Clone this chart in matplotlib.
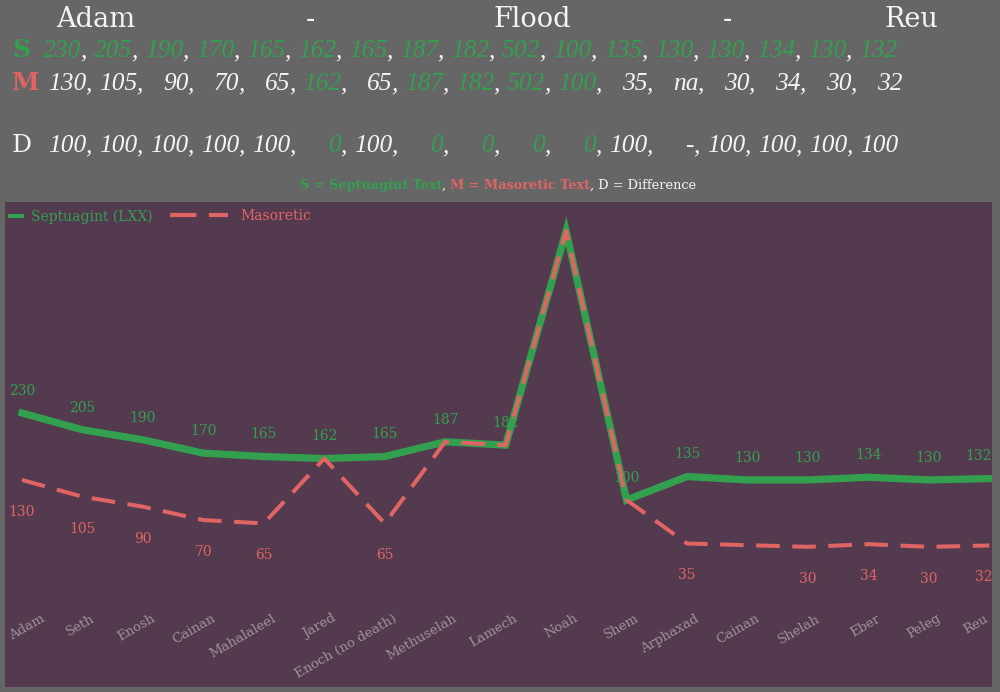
import matplotlib.pyplot as plt
from matplotlib.lines import Line2D
import numpy as np

plt.rcParams['lines.scale_dashes'] = False

# data
names = ['Adam', 'Seth', 'Enosh', 'Cainan', 'Mahalaleel', 'Jared',
         'Enoch (no death)', 'Methuselah', 'Lamech', 'Noah', 'Shem',
         'Arphaxad', 'Cainan', 'Shelah', 'Eber', 'Peleg', 'Reu']
septuagint = [230, 205, 190, 170, 165, 162, 165, 187, 182, 502, 100,
              135, 130, 130, 134, 130, 132]
masoretic = [130, 105, 90, 70, 65, 162, 65, 187, 182, 502, 100,
             35, np.nan, 30, 34, 30, 32]
header_names = ['Adam', '-', 'Flood', '-', 'Reu']

BG = '#666666'
PLOT_BG = '#533a4e'
GREEN = '#33a04f'
RED = '#e06464'
WHITE = '#f4f4f4'
TICK = '#9d929b'
SERIF = 'DejaVu Serif'
HEAD = 'Liberation Serif'

fig = plt.figure(figsize=(10, 6.92), dpi=100, facecolor=BG)
ax = fig.add_axes([0.005, 5 / 692, 0.987, 485 / 692])
ax.set_facecolor(PLOT_BG)
for s in ax.spines.values():
    s.set_visible(False)
ax.set_xticks([])
ax.set_yticks([])
ax.set_xlim(-0.281, 16.045)
ax.set_ylim(-179.5, 545.4)

x = np.arange(len(names))
s_arr = np.array(septuagint, dtype=float)
m_arr = np.array(masoretic, dtype=float)
ok = ~np.isnan(m_arr)

ax.plot(x, s_arr, color=GREEN, lw=5.2, solid_joinstyle='miter', zorder=2)
ax.plot(x[ok], m_arr[ok], color=RED, lw=2.9, dashes=(17, 9), zorder=3)

labels = []
top = ax.get_ylim()[1]
for i, v in enumerate(septuagint):
    if v < top - 60:
        labels.append(ax.annotate(str(v), (i, v), xytext=(0, 16), textcoords='offset points',
                                  ha='center', va='center', color=GREEN, fontsize=10,
                                  family=SERIF, zorder=4))
for i, v in enumerate(masoretic):
    if not np.isnan(v) and v != septuagint[i]:
        labels.append(ax.annotate(str(int(v)), (i, v), xytext=(0, -23), textcoords='offset points',
                                  ha='center', va='center', color=RED, fontsize=10,
                                  family=SERIF, zorder=4))

# rotated category labels inside the plot area
ticks = []
for i, name in enumerate(names):
    ticks.append(ax.text(i + 0.13, 0.155, name, transform=ax.get_xaxis_transform(),
                         rotation=30, rotation_mode='anchor', ha='right', va='top',
                         color=TICK, fontsize=9.5, family=SERIF))

# legend
h1 = Line2D([], [], color=GREEN, lw=3)
leg1 = ax.legend([h1], ['Septuagint (LXX)'], loc='upper left',
                 bbox_to_anchor=(0.005, 0.985), frameon=False, handlelength=0.9,
                 handletextpad=0.6, borderpad=0, borderaxespad=0,
                 labelcolor=[GREEN], prop={'family': SERIF, 'size': 10})
ax.add_artist(leg1)
h2 = Line2D([], [], color=RED, lw=3, dashes=(19, 9))
ax.legend([h2], ['Masoretic'], loc='upper left',
          bbox_to_anchor=(0.167, 0.985), frameon=False, handlelength=4.2,
          handletextpad=0.85, borderpad=0, borderaxespad=0,
          labelcolor=[RED], prop={'family': SERIF, 'size': 10})

# keep edge labels inside the plot area
renderer = fig.canvas.get_renderer()
ab = ax.get_window_extent(renderer)
px_per_unit = ab.width / (ax.get_xlim()[1] - ax.get_xlim()[0])


def shift_needed(t, margin):
    bb = t.get_window_extent(renderer)
    if bb.x0 < ab.x0 + margin:
        return ab.x0 + margin - bb.x0
    if bb.x1 > ab.x1 - margin:
        return ab.x1 - margin - bb.x1
    return 0


for t in ticks:
    dx = shift_needed(t, 2)
    if dx:
        px, py = t.get_position()
        t.set_position((px + dx / px_per_unit, py))
for t in labels:
    dx = shift_needed(t, 0)
    if dx:
        ox, oy = t.xyann
        t.xyann = (ox + dx * 72 / fig.dpi, oy)


# header text
def text_width(s, **kw):
    a = fig.text(0, 0, '|' + s + '|', **kw)
    b = fig.text(0, 0, '||', **kw)
    w = a.get_window_extent(renderer).width - b.get_window_extent(renderer).width
    a.remove()
    b.remove()
    return w


def draw_row(pieces, x0, y_base):
    xp = x0
    for s, color, kw in pieces:
        fig.text(xp / 1000, 1 - y_base / 692, s, color=color,
                 ha='left', va='baseline', **kw)
        xp += text_width(s, **kw)
    return xp


ital = {'family': HEAD, 'style': 'italic', 'fontsize': 18.3}
letter = {'family': SERIF, 'fontsize': 18}

for name, cx in zip(header_names, [96, 310, 532, 727, 911]):
    fig.text(cx / 1000, 1 - 27 / 692, name, color=WHITE, ha='center',
             va='baseline', family=SERIF, fontsize=19.5)

# S row
fig.text(12 / 1000, 1 - 57 / 692, 'S', color=GREEN, fontweight='bold',
         va='baseline', **letter)
pieces = []
for i, v in enumerate(septuagint):
    pieces.append((str(v), GREEN, ital))
    if i < len(septuagint) - 1:
        pieces.append((', ', WHITE, ital))
draw_row(pieces, 43, 57)

# M row
fig.text(12 / 1000, 1 - 90 / 692, 'M', color=RED, fontweight='bold',
         va='baseline', **letter)
m_txt = ['na' if np.isnan(v) else str(int(v)) for v in masoretic]
pieces = []
for i, t in enumerate(m_txt):
    col = GREEN if masoretic[i] == septuagint[i] else WHITE
    pieces.append((t, col, ital))
    if i < len(m_txt) - 1:
        pad = '  ' * (3 - len(m_txt[i + 1]))
        pieces.append((', ' + pad, WHITE, ital))
draw_row(pieces, 48, 90)

# D row
fig.text(12 / 1000, 1 - 152 / 692, 'D', color=WHITE, va='baseline', **letter)
d_txt = ['-' if np.isnan(m) else str(int(s - m)) for s, m in zip(s_arr, m_arr)]
pieces = []
for i, t in enumerate(d_txt):
    col = GREEN if t == '0' else WHITE
    pieces.append((t, col, ital))
    if i < len(d_txt) - 1:
        pad = '  ' * (3 - len(d_txt[i + 1]))
        pieces.append((', ' + pad, WHITE, ital))
draw_row(pieces, 48, 152)

# key line
small_b = {'family': SERIF, 'fontsize': 9.3, 'fontweight': 'bold'}
small = {'family': SERIF, 'fontsize': 9.3}
key = [('S = Septuagint Text', GREEN, small_b), (', ', WHITE, small),
       ('M = Masoretic Text', RED, small_b), (', D = Difference', WHITE, small)]
total = sum(text_width(s, **kw) for s, c, kw in key)
draw_row(key, 498 - total / 2, 189)

fig.savefig('out.png', dpi=100, facecolor=BG)
